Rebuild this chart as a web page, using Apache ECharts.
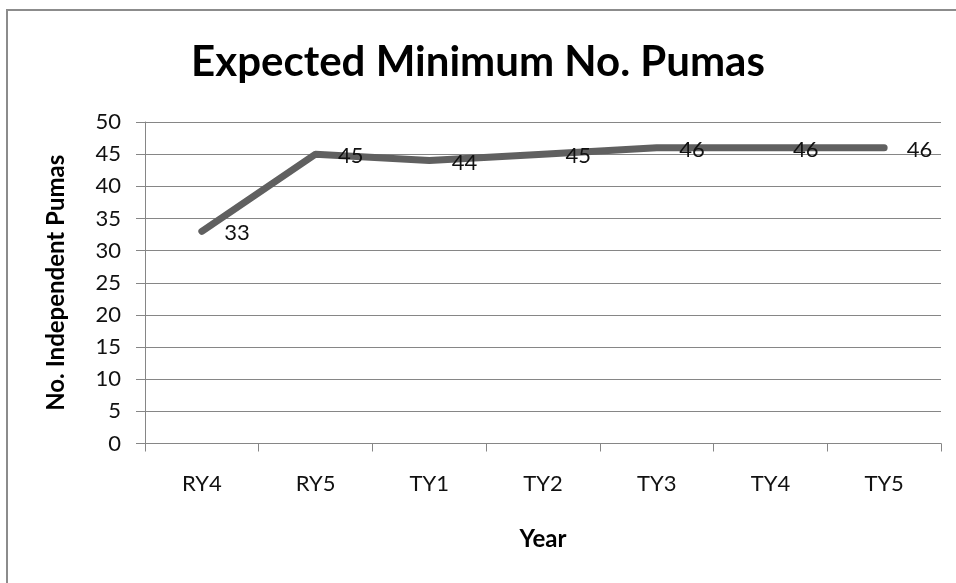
<!DOCTYPE html>
<html>
<head>
<meta charset="utf-8">
<script src="https://cdn.jsdelivr.net/npm/echarts@6/dist/echarts.min.js"></script>
<style>
html,body{margin:0;padding:0;background:#fff;}
#chart{width:956px;height:583px;}
</style>
</head>
<body>
<div id="chart"></div>
<script>
const categories = ['RY4', 'RY5', 'TY1', 'TY2', 'TY3', 'TY4', 'TY5'];
const values = [33, 45, 44, 45, 46, 46, 46];
const yTicks = [0, 5, 10, 15, 20, 25, 30, 35, 40, 45, 50];

const chart = echarts.init(document.getElementById('chart'), null, {renderer: 'canvas'});
const font = 'Lato, "Open Sans", sans-serif';
chart.setOption({
  animation: false,
  backgroundColor: '#ffffff',
  textStyle: {fontFamily: font},
  title: {
    text: 'Expected Minimum No. Pumas',
    left: 'center',
    top: 36,
    textStyle: {fontFamily: font, fontWeight: 'bold', fontSize: 42, color: '#000'}
  },
  graphic: [{
    type: 'rect',
    shape: {x: 7, y: 10, width: 1200, height: 1000},
    style: {fill: 'none', stroke: '#8c8c8c', lineWidth: 2},
    silent: true
  }],
  grid: {left: 145, right: 15, top: 122, bottom: 139.5},
  xAxis: {
    type: 'category',
    data: categories,
    boundaryGap: true,
    name: 'Year',
    nameLocation: 'middle',
    nameGap: 84,
    nameTextStyle: {fontFamily: font, fontWeight: 'bold', fontSize: 24, color: '#000', verticalAlign: 'top'},
    axisLine: {lineStyle: {color: '#868686', width: 1}},
    axisTick: {show: true, length: 8, alignWithLabel: false, lineStyle: {color: '#868686'}},
    axisLabel: {margin: 29, fontSize: 22, color: '#111', fontFamily: font}
  },
  yAxis: {
    type: 'value',
    min: yTicks[0],
    max: yTicks[yTicks.length - 1],
    interval: yTicks[1] - yTicks[0],
    name: 'No. Independent Pumas',
    nameLocation: 'middle',
    nameGap: 77,
    nameRotate: 90,
    nameTextStyle: {fontFamily: font, fontWeight: 'bold', fontSize: 24, color: '#000'},
    axisLine: {show: true, lineStyle: {color: '#868686', width: 1}},
    axisTick: {show: true, length: 9, lineStyle: {color: '#868686'}},
    splitLine: {lineStyle: {color: '#868686', width: 1}},
    axisLabel: {margin: 24, fontSize: 22, color: '#111', fontFamily: font}
  },
  series: [{
    type: 'line',
    data: values,
    smooth: false,
    symbol: 'circle',
    symbolSize: 1,
    showSymbol: true,
    itemStyle: {color: 'rgba(0,0,0,0)'},
    lineStyle: {color: '#606060', width: 7, cap: 'round', join: 'round'},
    label: {
      show: true,
      position: 'right',
      distance: 22,
      offset: [0, 2],
      fontSize: 22,
      color: '#111',
      fontFamily: font
    }
  }]
});
</script>
</body>
</html>
